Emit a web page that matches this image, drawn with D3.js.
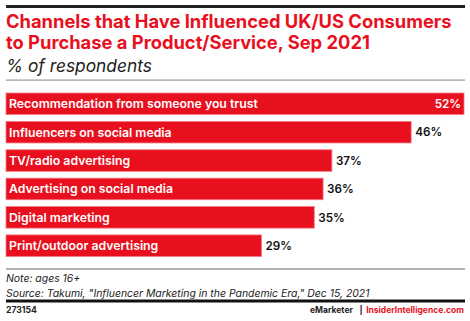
<!DOCTYPE html>
<html><head><meta charset="utf-8">
<script src="https://cdn.jsdelivr.net/npm/d3@7/dist/d3.min.js"></script>
<style>body{margin:0;background:#fff}svg{display:block}</style>
</head><body>
<script>
const categories = ["Recommendation from someone you trust","Influencers on social media","TV/radio advertising","Advertising on social media","Digital marketing","Print/outdoor advertising"];
const values = [52,46,37,36,35,29];
const title = ["Channels that Have Influenced UK/US Consumers","to Purchase a Product/Service, Sep 2021"];
const subtitle = "% of respondents";
const notes = ["Note: ages 16+","Source: Takumi, \"Influencer Marketing in the Pandemic Era,\" Dec 15, 2021"];
const chartId = "273154";
const brand = ["eMarketer","InsiderIntelligence.com"];

const W=470,H=321, L=6, R=464;
const red="#e8101e";
const font="Inter, 'Open Sans', sans-serif";
const svg=d3.select("body").append("svg").attr("width",W).attr("height",H);

// scale a text's font size so its width equals target
function fit(sel, target){
  const n=sel.node(); const fs=+sel.attr("font-size"); const w=n.getComputedTextLength();
  if(w>0) sel.attr("font-size", fs*target/w);
  return sel.attr("font-size");
}

svg.append("rect").attr("x",L).attr("y",5).attr("width",R-L+1).attr("height",3).attr("fill","#222");
const t1=svg.append("text").attr("x",L).attr("y",28).attr("fill",red).attr("font-family",font)
 .attr("font-weight",700).attr("font-size",18).text(title[0]);
const tfs=fit(t1,446);
svg.append("text").attr("x",L).attr("y",49).attr("fill",red).attr("font-family",font)
 .attr("font-weight",700).attr("font-size",tfs).text(title[1]);
const st=svg.append("text").attr("x",L).attr("y",72).attr("font-family",font).attr("font-style","italic")
 .attr("font-size",16.5).attr("fill","#222").text(subtitle);
fit(st,146);
svg.append("rect").attr("x",L).attr("y",79.5).attr("width",R-L+1).attr("height",1.2).attr("fill","#999");

const x=d3.scaleLinear().domain([0,52]).range([L,R]);
const y=d3.scaleBand().domain(categories).range([93,256.5]).paddingInner(0.24).paddingOuter(0);

const g=svg.append("g");
g.selectAll("rect.bar").data(values).join("rect").attr("class","bar")
 .attr("x",x(0)).attr("y",(d,i)=>y(categories[i])).attr("width",d=>x(d)-x(0)).attr("height",y.bandwidth())
 .attr("fill",red).attr("stroke","#f27a80").attr("stroke-width",0.8);
const cats=g.selectAll("text.cat").data(categories).join("text").attr("class","cat")
 .attr("x",x(0)+3).attr("y",d=>y(d)+y.bandwidth()/2).attr("dy","0.36em")
 .attr("fill","#fff").attr("font-family",font).attr("font-weight",600).attr("font-size",13).text(d=>d);
const cfs=fit(d3.select(cats.nodes()[0]),249);
cats.attr("font-size",cfs);
const vals=g.selectAll("text.val").data(values).join("text").attr("class","val")
 .attr("x",(d,i)=>i===0?x(d)-3:x(d)+4).attr("text-anchor",(d,i)=>i===0?"end":"start")
 .attr("y",(d,i)=>y(categories[i])+y.bandwidth()/2).attr("dy","0.36em")
 .attr("fill",(d,i)=>i===0?"#fff":"#111").attr("font-family",font).attr("font-weight",600).attr("font-size",13)
 .text(d=>d+"%");
const vfs=fit(d3.select(vals.nodes()[1]),27);
vals.attr("font-size",vfs);

svg.append("rect").attr("x",L).attr("y",268.5).attr("width",R-L+1).attr("height",1).attr("fill","#666");
const nt=svg.selectAll("text.note").data(notes).join("text").attr("class","note")
 .attr("x",L).attr("y",(d,i)=>282+i*15).attr("font-family",font).attr("font-style","italic")
 .attr("font-size",11).attr("fill","#222").text(d=>d);
const nfs=fit(d3.select(nt.nodes()[1]),364);
nt.attr("font-size",nfs);
svg.append("rect").attr("x",L).attr("y",299.5).attr("width",R-L+1).attr("height",3).attr("fill","#111");
const idt=svg.append("text").attr("x",L).attr("y",313).attr("font-family",font).attr("font-weight",700)
 .attr("font-size",9).attr("fill","#222").text(chartId);
fit(idt,31);
const ii=svg.append("text").attr("x",R).attr("y",313).attr("text-anchor","end").attr("font-family",font)
 .attr("font-weight",700).attr("font-size",10).attr("fill",red).text(brand[1]);
const bfs=fit(ii,98);
svg.append("text").attr("x",361).attr("y",313).attr("text-anchor","middle").attr("font-family",font)
 .attr("font-weight",700).attr("font-size",bfs).attr("fill","#222").text("|");
const em=svg.append("text").attr("x",310).attr("y",313).attr("font-family",font)
 .attr("font-weight",700).attr("font-size",bfs).attr("fill","#222").text(brand[0]);
fit(em,43);
</script>
</body></html>
